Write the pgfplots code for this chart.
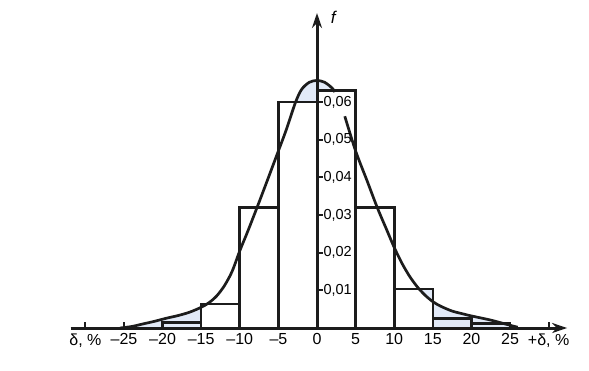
\documentclass[border=0pt]{standalone}
\usepackage{fontspec}
\setmainfont{Liberation Sans}
\usepackage{pgfplots}
\pgfplotsset{compat=1.18}
\usetikzlibrary{arrows.meta}
\definecolor{shade}{RGB}{226,234,248}
\definecolor{ink}{RGB}{28,28,28}
\begin{document}
\begin{tikzpicture}
\useasboundingbox (-317pt,-42pt) rectangle (272pt,328pt);
\begin{axis}[
  at={(0,0)}, anchor=origin,
  scale only axis, width=496.4pt, height=315pt,
  xmin=-31.9, xmax=32.4, ymin=0, ymax=0.0836,
  axis lines=middle,
  axis on top,
  hide obscured x ticks=false,
  hide obscured y ticks=false,
  axis line style={ink, line width=3pt},
  every inner x axis line/.append style={-{Stealth[length=15pt,width=10pt]}},
  every inner y axis line/.append style={-{Stealth[length=15pt,width=10pt]}},
  xtick={-30,-25,-20,-15,-10,-5,0,5,10,15,20,25,30},
  xticklabels={{δ, \%},\textendash25,\textendash20,\textendash15,\textendash10,\textendash5,0,5,10,15,20,25,{+δ, \%}},
  ytick={0.01,0.02,0.03,0.04,0.05,0.06},
  yticklabels={{0,01},{0,02},{0,03},{0,04},{0,05},{0,06}},
  tick align=inside,
  major tick length=6pt,
  tick style={ink, line width=2pt},
  xticklabel style={font=\fontsize{16}{18}\selectfont, yshift=-2pt},
  yticklabel style={font=\fontsize{14.5}{16}\selectfont, anchor=west, xshift=3pt},
  scaled y ticks=false,
  clip=false,
]
% shaded regions under the curve (tails and top)
\addplot[fill=shade, draw=none, smooth, tension=0.5] coordinates {
(-25.5,0) (-24,0.0004) (-22.5,0.0011) (-21,0.0018) (-19.5,0.0026) (-18,0.0033)
(-16.5,0.0042) (-15,0.0055)
} \closedcycle;
\addplot[fill=shade, draw=none, smooth, tension=0.5] coordinates {
(-2.8,0.0598) (-2,0.0633) (-1,0.0652) (0,0.0657) (1,0.0652) (2,0.0636) (2.3,0.0626)
} \closedcycle;
\addplot[fill=shade, draw=none, smooth, tension=0.5] coordinates {
(15,0.0070) (16,0.0058) (17.5,0.0045) (19,0.0037) (20,0.0032) (22.5,0.0021)
(24.5,0.0010) (26,0.0002)
} \closedcycle;
% main bars (white fill)
\addplot[ybar interval, fill=white, draw=none] coordinates {
(-15,0.0064) (-10,0.032) (-5,0.060) (0,0.063) (5,0.032) (10,0.0103) (15,0)
};
% triangle between bar top and curve in [10,15]
\addplot[fill=shade, draw=none] coordinates {
(13.27,0.0103) (14,0.0087) (15,0.0070) (15,0.0103)
} -- cycle;
% bar outlines
\addplot[ink, line width=2.6pt, line join=miter] coordinates {
(-20,0) (-20,0.0015) (-15,0.0015) (-15,0) (-15,0.0064) (-10,0.0064) (-10,0)
(-10,0.032) (-5,0.032) (-5,0) (-5,0.060) (0,0.060) (0,0) (0,0.063) (5,0.063) (5,0)
(5,0.032) (10,0.032) (10,0) (10,0.0103) (15,0.0103) (15,0) (15,0.0025) (20,0.0025)
(20,0) (20,0.0012) (25,0.0012) (25,0)
};
% curve, left part with top bump
\addplot[ink, line width=2.7pt, smooth, tension=0.5] coordinates {
(-25.5,0) (-24,0.0004) (-22.5,0.0011) (-21,0.0018) (-19.5,0.0026) (-18,0.0033)
(-16.5,0.0042) (-15,0.0055) (-14,0.0067) (-13,0.0085) (-12,0.0112) (-11,0.0150)
(-10,0.0205) (-9,0.0255) (-7.8,0.0318) (-6.5,0.0388) (-5,0.0470) (-4,0.0525)
(-2.8,0.0598) (-2,0.0633) (-1,0.0652) (0,0.0657) (1,0.0652) (2,0.0636) (2.3,0.0626)
};
% curve, right part
\addplot[ink, line width=2.7pt, smooth, tension=0.5] coordinates {
(3.6,0.0562) (5,0.0470) (6.5,0.0390) (7.8,0.0320) (9,0.0262) (10,0.0214)
(11,0.0172) (12,0.0137) (13,0.0109) (14,0.0087) (15,0.0070) (16,0.0058)
(17.5,0.0045) (19,0.0037) (20,0.0032) (22.5,0.0021) (24.5,0.0010) (26,0.0002)
};
\node[font=\fontsize{17}{19}\selectfont\itshape] at (axis cs:2.1,0.0825) {f};
\end{axis}
\end{tikzpicture}
\end{document}
